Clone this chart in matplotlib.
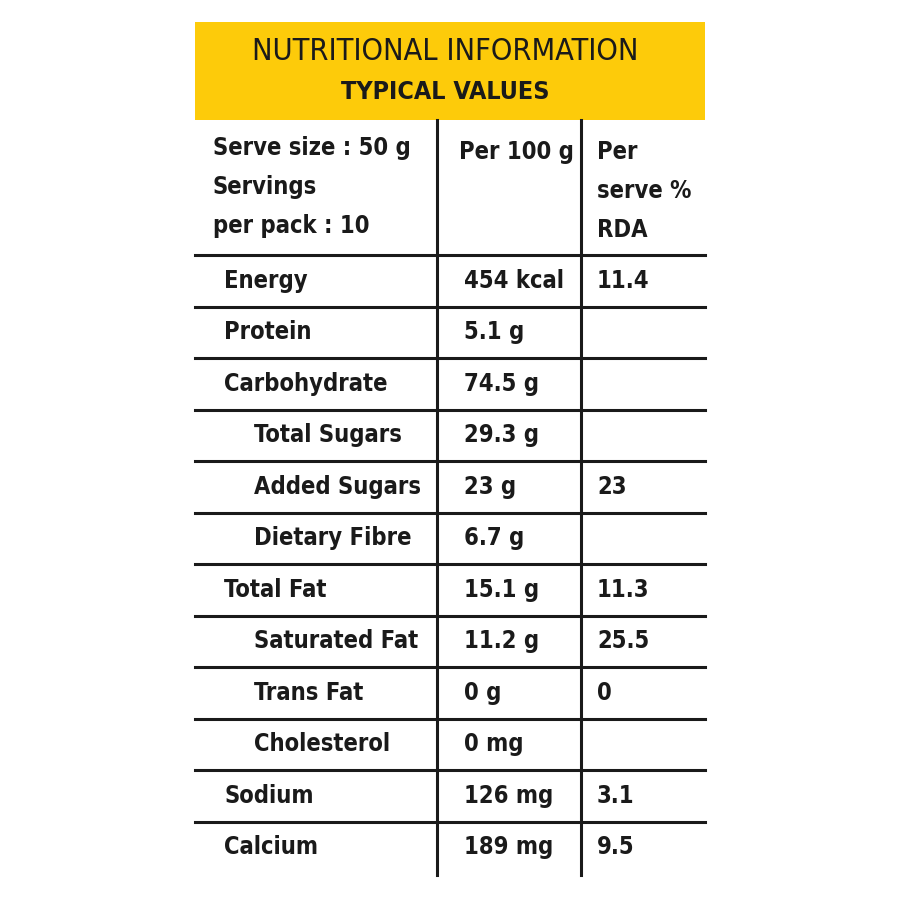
import matplotlib
matplotlib.use("Agg")
import matplotlib.pyplot as plt
from matplotlib.patches import Rectangle

title = "NUTRITIONAL INFORMATION"
subtitle = "TYPICAL VALUES"
header_cols = ["Serve size : 50 g\nServings\nper pack : 10", "Per 100 g", "Per\nserve %\nRDA"]
nutrients = ["Energy", "Protein", "Carbohydrate", "Total Sugars", "Added Sugars", "Dietary Fibre",
             "Total Fat", "Saturated Fat", "Trans Fat", "Cholesterol", "Sodium", "Calcium"]
indent = [0, 0, 0, 1, 1, 1, 0, 1, 1, 1, 0, 0]
per100 = ["454 kcal", "5.1 g", "74.5 g", "29.3 g", "23 g", "6.7 g", "15.1 g", "11.2 g", "0 g", "0 mg", "126 mg", "189 mg"]
rda = ["11.4", "", "", "", "23", "", "11.3", "25.5", "0", "", "3.1", "9.5"]

fig = plt.figure(figsize=(9, 9), dpi=100)
ax = fig.add_axes([0, 0, 1, 1])
ax.set_xlim(0, 900); ax.set_ylim(900, 0); ax.axis("off")
font = dict(family="DejaVu Sans", stretch="condensed", weight="bold", color="#1a1a1a")

ax.add_patch(Rectangle((195, 22), 510, 98, color="#FDCB0A", lw=0))
ax.text(445, 52, title, ha="center", va="center", fontsize=22,
        family="DejaVu Sans", stretch="condensed", color="#1a1a1a")
ax.text(445, 92, subtitle, ha="center", va="center", fontsize=18, **font)

lw = 2.2
top, row_start, row_h = 120, 255, 51.5
bottom = row_start + row_h * len(nutrients) + 2
for x in (437, 581):
    ax.plot([x, x], [top, bottom], color="#1a1a1a", lw=lw)
for i in range(len(nutrients)):
    y = row_start + i * row_h
    ax.plot([195, 705], [y, y], color="#1a1a1a", lw=lw)

fs = 17
ax.text(213, 148, header_cols[0], ha="left", va="center", fontsize=fs, **font)
ax.text(213, 187, "Servings", ha="left", va="center", fontsize=fs, **font) if False else None
for j, line in enumerate(header_cols[0].split("\n")):
    pass
ax.texts[-1].remove()
for j, line in enumerate(header_cols[0].split("\n")):
    ax.text(213, 148 + 39 * j, line, ha="left", va="center", fontsize=fs, **font)
ax.text(459, 152, header_cols[1], ha="left", va="center", fontsize=fs, **font)
for j, line in enumerate(header_cols[2].split("\n")):
    ax.text(597, 152 + 39 * j, line, ha="left", va="center", fontsize=fs, **font)

for i, (n, ind, v, r) in enumerate(zip(nutrients, indent, per100, rda)):
    yc = row_start + i * row_h + row_h / 2
    ax.text(224 + 30 * ind, yc, n, ha="left", va="center", fontsize=fs, **font)
    ax.text(464, yc, v, ha="left", va="center", fontsize=fs, **font)
    if r:
        ax.text(597, yc, r, ha="left", va="center", fontsize=fs, **font)

fig.savefig("out.png", dpi=100, facecolor="white")
